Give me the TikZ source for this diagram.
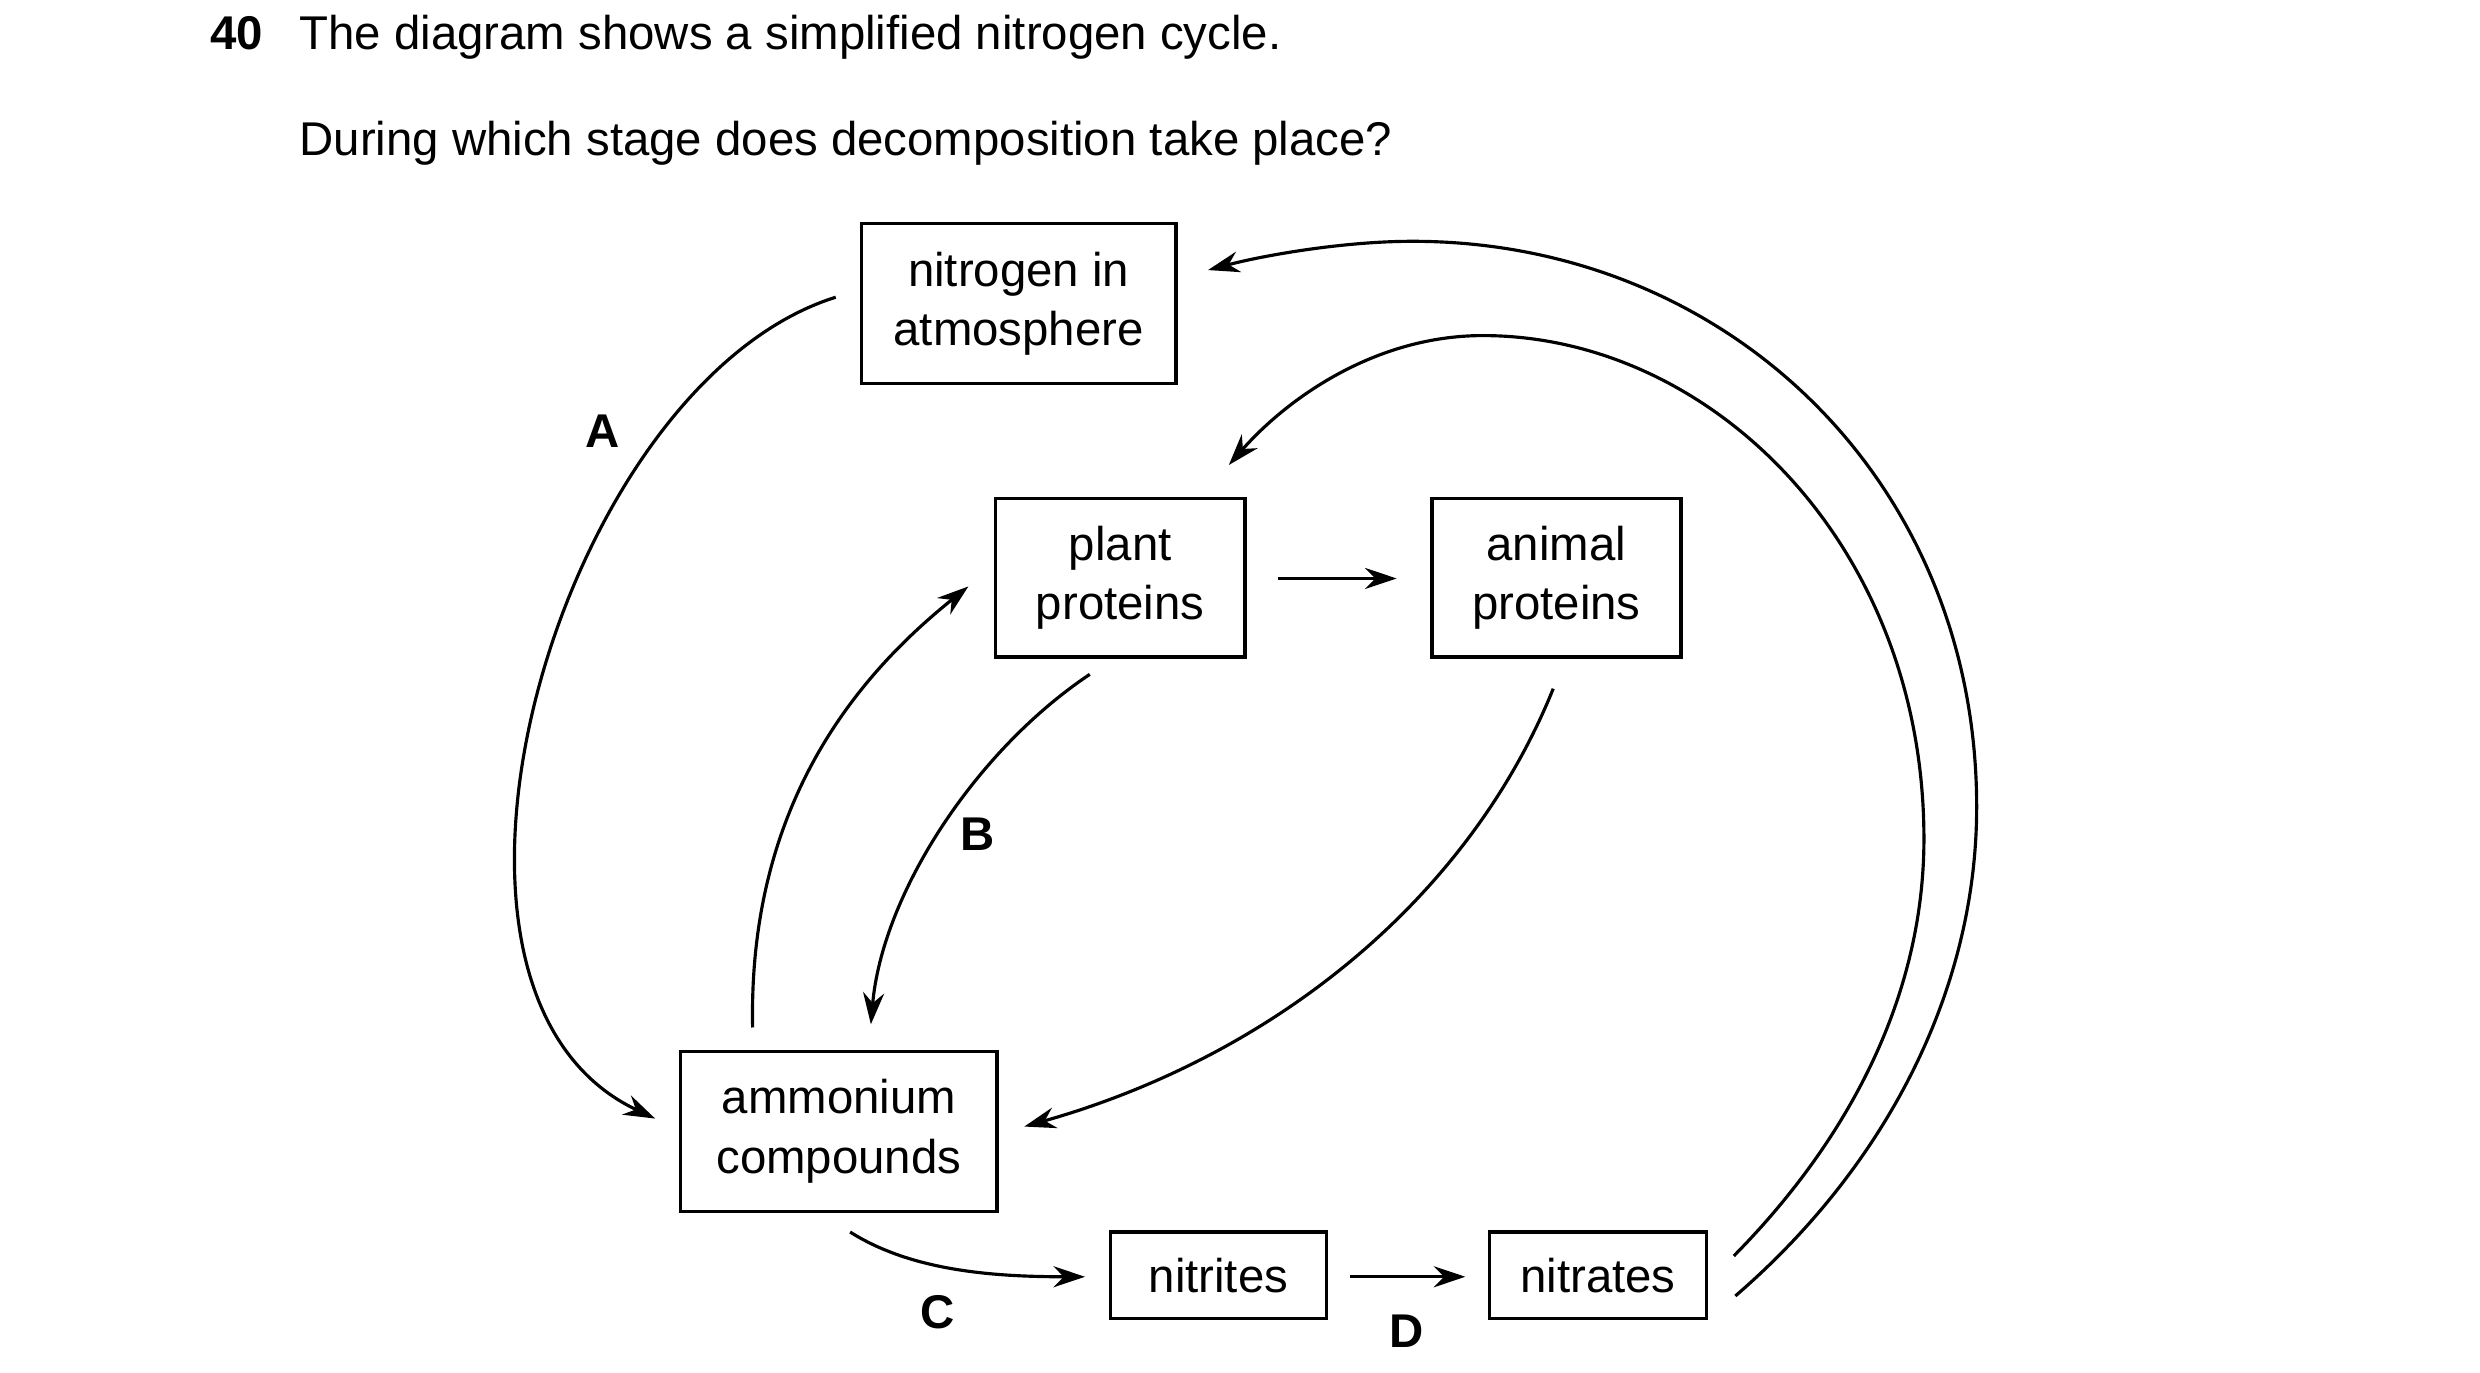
\documentclass[tikz,border=0pt]{standalone}
\usepackage{fontspec}
\setmainfont{Liberation Sans}
\usetikzlibrary{arrows.meta}
\begin{document}
\begin{tikzpicture}[x=0.016cm,y=0.016cm,
  box/.style={draw,line width=1pt,inner sep=0pt,align=center,font=\fontsize{13.5}{17}\selectfont},
  lbl/.style={font=\bfseries\fontsize{13.5}{16}\selectfont},
  arr/.style={line width=0.9pt,-{Stealth[length=9pt,width=6pt]}},
  txt/.style={anchor=base west,inner sep=0pt,font=\fontsize{13.5}{16}\selectfont}]
\useasboundingbox (0,0) rectangle (1552,-859);
\node[txt] (num) at (131,-31) {\textbf{40}};
\node[txt] (q1) at (187,-31) {The diagram shows a simplified nitrogen cycle.};
\node[txt] (q2) at (187,-97) {During which stage does decomposition take place?};
\node[box,minimum width=197*0.016cm,minimum height=100*0.016cm] (nit) at (637.5,-190) {nitrogen in\\atmosphere};
\node[box,minimum width=156*0.016cm,minimum height=99*0.016cm] (pp) at (701,-361.5) {plant\\proteins};
\node[box,minimum width=156*0.016cm,minimum height=99*0.016cm] (ap) at (974,-361.5) {animal\\proteins};
\node[box,minimum width=198*0.016cm,minimum height=100*0.016cm] (am) at (525,-708) {ammonium\\compounds};
\node[box,minimum width=135*0.016cm,minimum height=54*0.016cm] (ni) at (762.5,-798) {nitrites};
\node[box,minimum width=136*0.016cm,minimum height=54*0.016cm] (na) at (1000,-798) {nitrates};
\node[lbl] (A) at (377,-270) {A};
\node[lbl] (B) at (612,-522) {B};
\node[lbl] (C) at (587,-821) {C};
\node[lbl] (D) at (880,-833) {D};
\coordinate (a0) at (523,-186); \coordinate (a1) at (410,-700);
\coordinate (p0) at (471,-643); \coordinate (p1) at (606,-367);
\coordinate (b0) at (682,-422); \coordinate (b1) at (545,-641);
\coordinate (e0) at (800,-362); \coordinate (e1) at (874,-362);
\coordinate (f0) at (972,-431); \coordinate (f1) at (641,-705);
\coordinate (c0) at (532,-771); \coordinate (c1) at (679,-799);
\coordinate (d0) at (845,-799); \coordinate (d1) at (917,-799);
\coordinate (g0) at (1086,-811); \coordinate (g1) at (756,-169);
\coordinate (h0) at (1085,-786); \coordinate (h1) at (769,-291);
\draw[arr] (a0) .. controls (350,-240) and (240,-620) .. (a1);
\draw[arr] (p0) .. controls (468,-500) and (540,-420) .. (p1);
\draw[arr] (b0) .. controls (610,-470) and (552,-560) .. (b1);
\draw[arr] (e0) -- (e1);
\draw[arr] (f0) .. controls (920,-560) and (800,-660) .. (f1);
\draw[arr] (c0) .. controls (570,-795) and (620,-799) .. (c1);
\draw[arr] (d0) -- (d1);
\draw[arr] (g0) .. controls (1180,-730) and (1237,-620) .. (1237,-505) .. controls (1237,-300) and (1080,-151) .. (884,-151) .. controls (840,-151) and (790,-160) .. (g1);
\draw[arr] (h0) .. controls (1160,-710) and (1204,-620) .. (1204,-525) .. controls (1204,-340) and (1070,-210) .. (928,-210) .. controls (860,-210) and (805,-250) .. (h1);
\end{tikzpicture}
\end{document}
